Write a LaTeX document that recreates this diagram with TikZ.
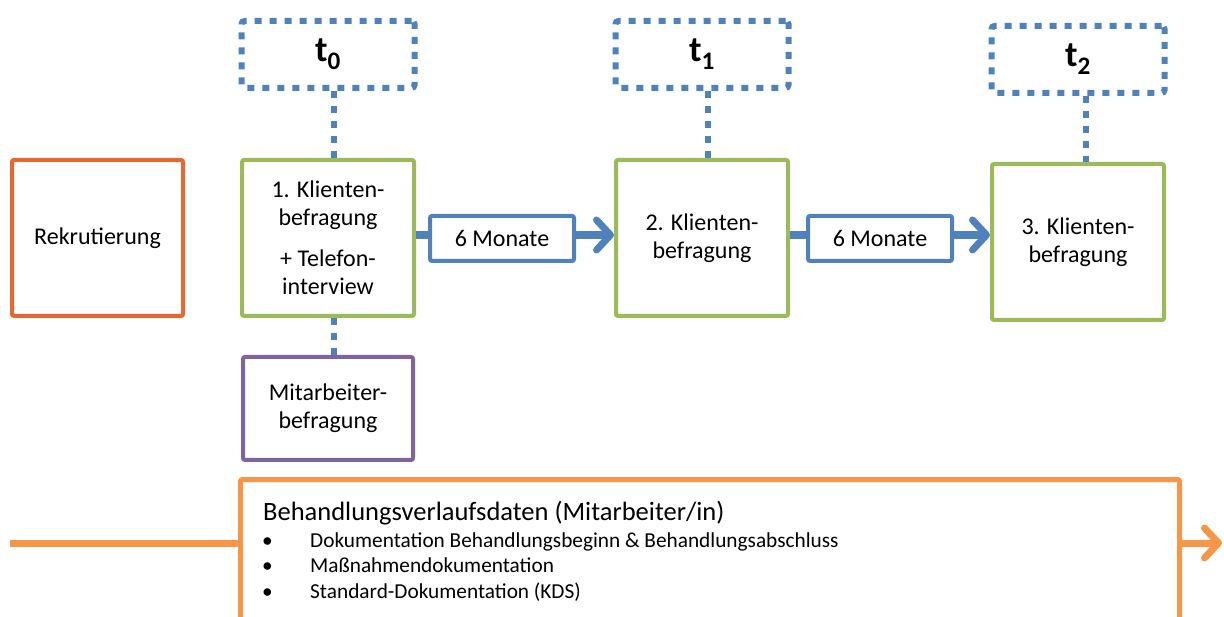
\documentclass[tikz,border=0pt]{standalone}
\usepackage{fontspec}
\setmainfont{Carlito}
\usepackage{tikz}
\usetikzlibrary{arrows.meta, positioning}
\definecolor{zeitblau}{HTML}{4F81BD}
\definecolor{klientgruen}{HTML}{9BBB59}
\definecolor{mitlila}{HTML}{8064A2}
\definecolor{verlauforange}{HTML}{F79646}
\definecolor{rekrutrot}{HTML}{E86630}
\tikzstyle{boxtext} = [font=\fontsize{24}{28}\selectfont, align=center]
\tikzstyle{klient} = [rectangle, rounded corners=2pt, minimum width=172pt, minimum height=156pt, draw=klientgruen, line width=4pt, boxtext]
\tikzstyle{rekrut} = [rectangle, rounded corners=2pt, minimum width=171pt, minimum height=156pt, draw=rekrutrot, line width=4pt, boxtext]
\tikzstyle{mitarb} = [rectangle, rounded corners=2pt, minimum width=170pt, minimum height=103pt, draw=mitlila, line width=4pt, boxtext]
\tikzstyle{zeitpunkt} = [rectangle, rounded corners=3pt, minimum width=173pt, minimum height=67pt, draw=zeitblau, line width=6pt, dash pattern=on 7pt off 8pt, font=\fontsize{36}{40}\selectfont\bfseries]
\tikzstyle{dots} = [draw=zeitblau, line width=6pt, dash pattern=on 7pt off 8pt]
\tikzstyle{monate} = [rectangle, rounded corners=2pt, minimum width=144pt, minimum height=45pt, draw=zeitblau, line width=4pt, fill=white, boxtext]
\tikzstyle{arrow} = [draw=zeitblau, line width=8pt, -{Straight Barb[length=14pt, width=30pt, line width=7pt, round]}]
\tikzstyle{orangearrow} = [draw=verlauforange, line width=7pt, -{Straight Barb[length=14pt, width=30pt, line width=7pt, round]}]

\begin{document}
\begin{tikzpicture}[x=1pt, y=-1pt]

\clip (0,0) rectangle (1224,617);

% Befragungen
\node (k1) [klient] at (328,238) {1. Klienten-\\befragung\\[13pt]+ Telefon-\\interview};
\node (k2) [klient, right=198pt of k1] {2. Klienten-\\befragung};
\node (k3) [klient, right=200pt of k2, yshift=-4pt] {3. Klienten-\\befragung};
\node (rekrut) [rekrut, left=55pt of k1] {Rekrutierung};
\node (mit) [mitarb, below=37pt of k1] {Mitarbeiter-\\befragung};

% Messzeitpunkte
\node (t0) [zeitpunkt, above=67pt of k1] {t\textsubscript{0}};
\node (t1) [zeitpunkt, above=67pt of k2] {t\textsubscript{1}};
\node (t2) [zeitpunkt, above=66pt of k3] {t\textsubscript{2}};

\draw [dots] ([xshift=6pt]t0.south) -- ([xshift=6pt]k1.north);
\draw [dots] ([xshift=6pt]t1.south) -- ([xshift=6pt]k2.north);
\draw [dots] ([xshift=8pt]t2.south) -- ([xshift=8pt]k3.north);
\draw [dots] ([xshift=6pt]k1.south) -- ([xshift=6pt]mit.north);

% Zeitabstaende
\draw [arrow] ([yshift=3pt]k1.east) -- ([yshift=3pt]k2.west);
\draw [arrow] ([yshift=3pt]k2.east) -- ([yshift=3pt]k2.east -| k3.west);
\node (m1) [monate] at (502,238.5) {6 Monate};
\node (m2) [monate] at (880,238.5) {6 Monate};

% Behandlungsverlauf
\node (verlauf) [rectangle, rounded corners=2pt, anchor=north west, minimum width=939pt, minimum height=200pt, draw=verlauforange, line width=5pt] at (238,477) {};
\node (titel) [anchor=base west, inner sep=0pt, font=\fontsize{26.5}{30}\selectfont] at (263,520) {Behandlungsverlaufsdaten (Mitarbeiter/in)};
\node (liste) [anchor=base west, inner sep=0pt, align=left, font=\fontsize{21.3}{25.5}\selectfont] at (262,598)
  {\makebox[48pt][l]{\textbullet}Dokumentation Behandlungsbeginn \& Behandlungsabschluss\\
   \makebox[48pt][l]{\textbullet}Maßnahmendokumentation\\
   \makebox[48pt][l]{\textbullet}Standard-Dokumentation (KDS)};

\coordinate (start) at (10,543);
\coordinate (ziel) at (1222,543);
\draw [draw=verlauforange, line width=7pt] (start) -- (start -| verlauf.west);
\draw [orangearrow] (start -| verlauf.east) -- (ziel);

\end{tikzpicture}
\end{document}
